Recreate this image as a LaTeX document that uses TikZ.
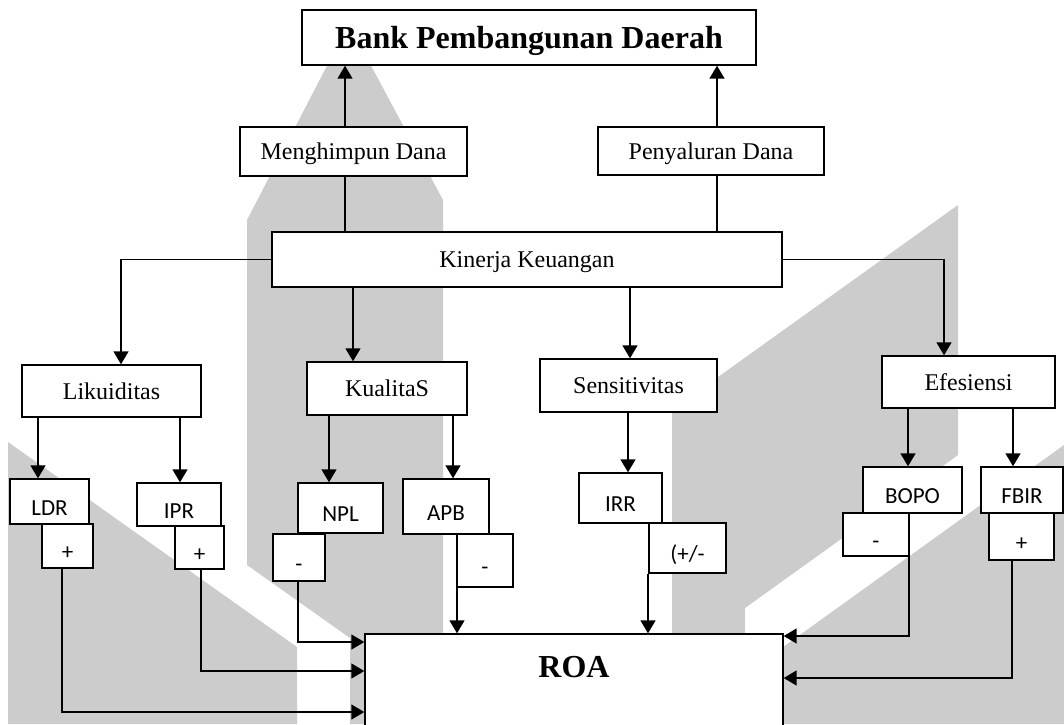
\documentclass[tikz,border=0pt]{standalone}
\usepackage{fontspec}
\setmainfont{Liberation Serif}
\newfontfamily\calfont{Carlito}
\usetikzlibrary{arrows.meta}
\begin{document}
\begin{tikzpicture}[x=1pt,y=-1pt,
  box/.style={draw=black, line width=1.4pt, fill=white, inner sep=0pt, text depth=0pt,
              font=\fontsize{24}{28}\selectfont},
  sbox/.style={box, text height=27pt, font=\calfont\fontsize{23}{27}\selectfont},
  bigtxt/.style={font=\bfseries\fontsize{32}{36}\selectfont},
  arr/.style={line width=1.5pt, -{Triangle[length=13pt,width=15pt]}},
  ln/.style={line width=1.5pt},
  wm/.style={fill=black!20, draw=none}]
\clip (0,0) rectangle (1064,724);
\fill[white] (0,0) rectangle (1064,724);
% watermark
\fill[wm] (330,60) -- (368,60) -- (443,200) -- (443,724) -- (350,724) -- (350,638) -- (247,565) -- (247,220) -- cycle;
\fill[wm] (8,442) -- (297,647) -- (297,724) -- (8,724) -- cycle;
\fill[wm] (672,410) -- (958,205) -- (958,455) -- (745,608) -- (745,724) -- (672,724) -- cycle;
\fill[wm] (1064,445) -- (1064,724) -- (676,724) -- cycle;
% top level
\node[box, bigtxt, minimum width=454pt, minimum height=55pt] (bank) at (529,37.5) {Bank Pembangunan Daerah};
\node[box, minimum width=227pt, minimum height=49pt] (mh) at (353.5,151.5) {Menghimpun Dana};
\node[box, minimum width=226pt, minimum height=48pt] (py) at (711,151) {Penyaluran Dana};
\node[box, minimum width=510pt, minimum height=55pt] (kin) at (527,259.5) {Kinerja Keuangan};
% second level
\node[box, minimum width=179pt, minimum height=52pt] (lik) at (111.5,391) {Likuiditas};
\node[box, minimum width=160pt, minimum height=53pt] (kua) at (387,388.5) {KualitaS};
\node[box, minimum width=177pt, minimum height=53pt] (sen) at (628.5,385.5) {Sensitivitas};
\node[box, minimum width=173pt, minimum height=52pt] (efi) at (968.5,382) {Efesiensi};
% ratios
\node[sbox, minimum width=79pt, minimum height=45pt] (ldr) at (49.5,501.5) {LDR};
\node[sbox, minimum width=51pt, minimum height=44pt] (pldr) at (67.5,546) {+};
\node[sbox, minimum width=84pt, minimum height=43pt] (ipr) at (179,504.5) {IPR};
\node[sbox, minimum width=49pt, minimum height=43pt] (pipr) at (199.5,547.5) {+};
\node[sbox, minimum width=85pt, minimum height=50pt] (npl) at (340.5,508) {NPL};
\node[sbox, minimum width=52pt, minimum height=47pt] (mnpl) at (299,557.5) {-};
\node[sbox, minimum width=86pt, minimum height=55pt] (apb) at (446,506.5) {APB};
\node[sbox, minimum width=56pt, minimum height=53pt] (mapb) at (485,560.5) {-};
\node[sbox, minimum width=83pt, minimum height=50pt] (irr) at (620.5,498) {IRR};
\node[sbox, minimum width=77pt, minimum height=50pt] (pmirr) at (687.5,548) {(+/-};
\node[sbox, minimum width=99pt, minimum height=46pt] (bopo) at (912.5,490) {BOPO};
\node[sbox, minimum width=66pt, minimum height=43pt] (mbopo) at (876,534.5) {-};
\node[sbox, minimum width=82pt, minimum height=46pt] (fbir) at (1022,490) {FBIR};
\node[sbox, minimum width=65pt, minimum height=47pt] (pfbir) at (1021.5,536.5) {+};
% ROA
\node[box, minimum width=418pt, minimum height=126pt] (roa) at (574,697) {};
\node[bigtxt] (roatxt) at (574,667) {ROA};
% x positions of vertical connectors
\coordinate (xa) at (345,0);
\coordinate (xb) at (717,0);
\coordinate (xl) at (121,0);
\coordinate (xe) at (944,0);
\coordinate (xk) at (353,0);
\coordinate (xs) at (630,0);
\coordinate (x1) at (38,0);
\coordinate (x2) at (180,0);
\coordinate (x3) at (329,0);
\coordinate (x4) at (453,0);
\coordinate (x5) at (628,0);
\coordinate (x6) at (908,0);
\coordinate (x7) at (1013,0);
\coordinate (k1) at (62,712);
\coordinate (k2) at (201,671);
\coordinate (k3) at (298,642);
\coordinate (k4) at (457,0);
\coordinate (k5) at (648,0);
\coordinate (k6) at (909,636);
\coordinate (k7) at (1012,678);
% top connectors
\draw[arr] (xa |- mh.north) -- (xa |- bank.south);
\draw[ln] (xa |- kin.north) -- (xa |- mh.south);
\draw[arr] (xb |- py.north) -- (xb |- bank.south);
\draw[ln] (xb |- kin.north) -- (xb |- py.south);
\draw[arr] (kin.west) -| (xl |- lik.north);
\draw[arr] (kin.east) -| (xe |- efi.north);
\draw[arr] (xk |- kin.south) -- (xk |- kua.north);
\draw[arr] (xs |- kin.south) -- (xs |- sen.north);
% second level connectors
\draw[arr] (x1 |- lik.south) -- (x1 |- ldr.north);
\draw[arr] (x2 |- lik.south) -- (x2 |- ipr.north);
\draw[arr] (x3 |- kua.south) -- (x3 |- npl.north);
\draw[arr] (x4 |- kua.south) -- (x4 |- apb.north);
\draw[arr] (x5 |- sen.south) -- (x5 |- irr.north);
\draw[arr] (x6 |- efi.south) -- (x6 |- bopo.north);
\draw[arr] (x7 |- efi.south) -- (x7 |- fbir.north);
% to ROA
\draw[arr] (pldr.south -| k1) |- (roa.west |- k1);
\draw[arr] (pipr.south -| k2) |- (roa.west |- k2);
\draw[arr] (mnpl.south -| k3) |- (roa.west |- k3);
\draw[arr] (mapb.south -| k4) -- (roa.north -| k4);
\draw[arr] (pmirr.south -| k5) -- (roa.north -| k5);
\draw[arr] (mbopo.south -| k6) |- (roa.east |- k6);
\draw[arr] (pfbir.south -| k7) |- (roa.east |- k7);
\end{tikzpicture}
\end{document}
